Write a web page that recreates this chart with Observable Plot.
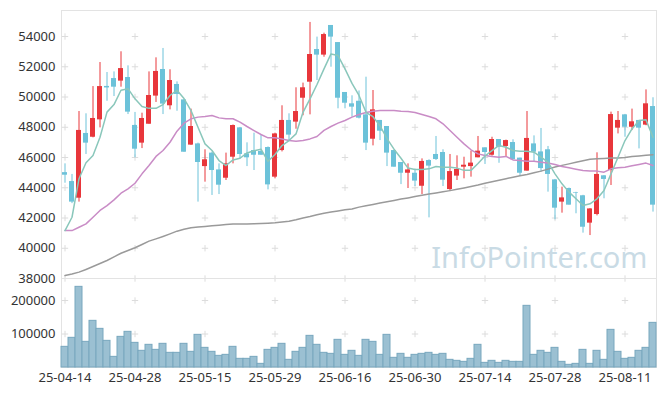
<!DOCTYPE html>
<html><head><meta charset="utf-8">
<script src="https://cdn.jsdelivr.net/npm/d3@7"></script>
<script src="https://cdn.jsdelivr.net/npm/@observablehq/plot@0.6"></script>
<style>
html,body{margin:0;padding:0;background:#fff;}
#chart{position:relative;width:665px;height:396px;overflow:hidden;font-family:"Noto Sans",sans-serif;}
#chart svg{position:absolute;left:0;}
</style></head><body><div id="chart"></div>
<script>
const dates = [
"2025-04-14","2025-04-15","2025-04-16","2025-04-17","2025-04-18","2025-04-21","2025-04-22","2025-04-23","2025-04-24","2025-04-25",
"2025-04-28","2025-04-29","2025-04-30","2025-05-02","2025-05-07","2025-05-08","2025-05-09","2025-05-12","2025-05-13","2025-05-14",
"2025-05-15","2025-05-16","2025-05-19","2025-05-20","2025-05-21","2025-05-22","2025-05-23","2025-05-26","2025-05-27","2025-05-28",
"2025-05-29","2025-05-30","2025-06-02","2025-06-04","2025-06-05","2025-06-09","2025-06-10","2025-06-11","2025-06-12","2025-06-13",
"2025-06-16","2025-06-17","2025-06-18","2025-06-19","2025-06-20","2025-06-23","2025-06-24","2025-06-25","2025-06-26","2025-06-27",
"2025-06-30","2025-07-01","2025-07-02","2025-07-03","2025-07-04","2025-07-07","2025-07-08","2025-07-09","2025-07-10","2025-07-11",
"2025-07-14","2025-07-15","2025-07-16","2025-07-17","2025-07-18","2025-07-21","2025-07-22","2025-07-23","2025-07-24","2025-07-25",
"2025-07-28","2025-07-29","2025-07-30","2025-07-31","2025-08-01","2025-08-04","2025-08-05","2025-08-06","2025-08-07","2025-08-08",
"2025-08-11","2025-08-12","2025-08-13","2025-08-14","2025-08-18"];

const open = [
45000,44410,43310,47590,47340,48490,50700,51220,51050,51290,
48120,46950,48200,50060,51820,49420,50830,49810,46820,46900,
45400,46290,45180,44630,46020,47960,46240,46460,46400,46660,
44700,46460,48450,48340,49920,50980,53140,52770,54730,53600,
50300,49550,49720,48820,47210,48450,48050,46460,45670,44960,
44960,44100,45800,46200,46330,43880,44770,45360,45400,45980,
46640,46150,47190,46730,46990,45960,45100,46900,46370,46510,
44520,43050,43950,43680,43470,41660,42230,44790,45140,47940,
48820,48000,48450,48140,49370];
const high = [
45580,44880,49040,48890,50690,52280,51620,51660,52990,52060,
48980,48930,51660,52590,53210,51800,51000,49850,49200,46950,
46510,46350,45580,46290,48150,47990,46970,47610,47500,46700,
47610,49420,48890,50610,50920,54930,53960,54220,54730,53600,
50300,50080,50400,51310,50430,48450,48050,46460,45670,45580,
45230,45910,45850,47390,46510,46200,46110,46020,46420,47390,
46640,47340,47190,47150,47170,45960,49040,47430,47920,46730,
44550,44040,43980,43700,43500,42620,46310,44800,49000,49040,
48850,49200,48450,50470,49950];
const low = [
44300,42950,43050,46200,47300,47960,49720,50030,50650,48840,
45980,46590,48200,49640,48840,49150,49060,46350,46800,43050,
44370,43490,43550,44480,45580,45910,45400,45140,46150,43860,
44590,46370,47080,47870,48760,48820,51090,52630,51970,49220,
49220,48670,48550,46460,46770,47120,45400,45360,44210,43950,
44080,43550,42010,45800,44080,43750,44480,44590,44700,45980,
45540,46090,45620,46070,45850,44740,45100,45690,45030,43710,
41880,42320,42850,42280,41000,40840,42140,43270,44150,47560,
47340,47780,46570,48100,42390];
const close = [
44830,43050,47790,46950,48580,50690,50600,50650,51880,49000,
46550,48580,50100,51690,49530,51090,50170,46350,48050,45670,
45850,45140,44170,45580,48115,46200,45980,46150,46150,44190,
47560,48450,47480,49040,50610,52810,52770,54130,53960,49920,
49590,49330,48600,46950,49150,47740,46290,45360,44960,45180,
44440,45740,45430,45870,44500,45070,45210,45490,45630,46420,
46330,47190,46680,47120,45850,44960,47260,46350,45270,44880,
42650,43330,42850,43640,41390,42600,44880,44550,48840,48450,
48000,48360,47940,49550,42850];
const volume = [
61700,88600,240800,76600,139300,115400,79600,31800,91500,106500,
73600,49800,67700,52700,70700,43800,43800,70700,46800,97500,
58700,46800,34800,37800,61700,25900,25900,31800,10900,52700,
58700,70700,22900,46800,58700,94500,67700,43800,40800,82600,
37800,49800,34800,82600,76600,37800,97500,28900,40800,28900,
37800,40800,43800,37800,40800,22900,19900,16900,25900,67700,
13900,19900,13900,19900,16900,16900,184100,37800,49800,43800,
58700,16900,8000,10900,52700,10900,49800,22900,112400,46800,
25900,28900,49800,58700,133300];
const ma5 = [
41170,42050,44600,45650,46130,47340,49000,49500,50450,50550,
49880,49370,49250,49250,49500,50100,50450,49900,49100,48000,
46900,46460,45800,45470,45840,45950,46300,46450,46550,45750,
46200,46790,47120,47560,48990,49880,50830,51860,52850,52740,
51860,50900,50100,48990,48700,48100,47250,46550,45950,45300,
45200,45200,45250,45400,45350,45350,45300,45150,45150,45600,
46100,46450,46800,46680,46460,46420,46420,46350,46020,45690,
44920,44260,43710,43270,42830,42940,43270,43820,44920,46020,
47120,47890,48450,48490,47340];
const ma20 = [
41170,41170,41390,41610,42050,42500,42820,43200,43640,43930,
44300,44920,45470,46070,46460,47010,47740,48270,48560,48670,
48710,48780,48620,48560,48560,48340,48050,47780,47520,47300,
47300,47230,47120,47080,47120,47230,47390,47790,48050,48270,
48450,48670,48840,48970,49060,49110,49110,49110,49060,49040,
48970,48840,48710,48560,48230,47790,47340,46900,46510,46240,
46130,46070,46020,46070,45840,45800,45760,45760,45690,45630,
45540,45410,45320,45230,45140,45100,45100,45030,45250,45320,
45360,45450,45540,45630,45470];
const ma60 = [
38200,38300,38420,38600,38790,38990,39190,39430,39670,39850,
40030,40250,40470,40620,40780,40950,41130,41250,41350,41400,
41440,41480,41520,41570,41610,41610,41610,41620,41640,41660,
41690,41740,41790,41880,42000,42100,42220,42320,42400,42470,
42540,42600,42720,42810,42900,42990,43080,43160,43250,43330,
43420,43500,43580,43660,43730,43810,43900,43990,44080,44180,
44300,44400,44500,44600,44700,44790,44880,44990,45100,45230,
45370,45480,45580,45680,45780,45880,45920,45940,45960,45970,
46000,46060,46100,46150,46180];
const priceTicks = [38000,40000,42000,44000,46000,48000,50000,52000,54000];
const volumeTicks = [100000,200000];
const tickLabels = ["25-04-14","25-04-28","25-05-15","25-05-29","25-06-16","25-06-30","25-07-14","25-07-28","25-08-11"];
const watermark = "InfoPointer.com";

const UP = "#e8363b", DOWN = "#6cc2d9";
const rows = dates.map((date, i) => ({
  date, open: open[i], high: high[i], low: low[i], close: close[i],
  volume: volume[i], ma5: ma5[i], ma20: ma20[i], ma60: ma60[i],
  color: close[i] >= open[i] ? UP : DOWN
}));
const tickDates = dates.filter(d => tickLabels.includes(d.slice(2)));
const priceGrid = d3.cross(tickDates, priceTicks).map(([date, v]) => ({date, v}));
const volGrid = d3.cross(tickDates, volumeTicks).map(([date, v]) => ({date, v}));

const baseStyle = {fontFamily: "'Noto Sans', sans-serif", fontSize: "13px", color: "#333", background: "transparent", overflow: "visible"};
const xBand = {type: "band", domain: dates, padding: 0};

const price = Plot.plot({
  width: 665, height: 279, marginLeft: 61, marginRight: 9, marginTop: 10, marginBottom: 1,
  style: baseStyle,
  x: {...xBand, axis: null},
  y: {domain: [38000, 55720], ticks: priceTicks, tickSize: 0, tickPadding: 6, tickFormat: d => String(d), label: null},
  marks: [
    Plot.frame({stroke: "#e3e3e3"}),
    Plot.dot(priceGrid, {x: "date", y: "v", symbol: "plus", r: 2.2, stroke: "#dcdcdc", strokeWidth: 1}),
    Plot.text([watermark], {text: d => d, frameAnchor: "bottom-right", textAnchor: "end", lineAnchor: "middle", dx: -9, dy: -20, fontSize: 29, fill: "#c9dbe5"}),
    Plot.ruleX(rows, {x: "date", y1: "low", y2: "high", stroke: "color", strokeWidth: 1}),
    Plot.barY(rows, {x: "date", y1: "open", y2: "close", fill: "color", insetLeft: 1, insetRight: 1}),
    Plot.lineY(rows, {x: "date", y: "ma60", stroke: "#9a9a9a", strokeWidth: 1.5}),
    Plot.lineY(rows, {x: "date", y: "ma20", stroke: "#c98cc6", strokeWidth: 1.5}),
    Plot.lineY(rows, {x: "date", y: "ma5", stroke: "#8ac7bb", strokeWidth: 1.5})
  ]
});

const vol = Plot.plot({
  width: 665, height: 118, marginLeft: 61, marginRight: 9, marginTop: 0, marginBottom: 29,
  style: baseStyle,
  x: {...xBand, ticks: tickDates, tickFormat: d => tickLabels[tickDates.indexOf(d)], tickSize: 0, tickPadding: 5, label: null},
  y: {domain: [0, 265700], ticks: volumeTicks, tickSize: 0, tickPadding: 6, tickFormat: d => String(d), label: null},
  marks: [
    Plot.frame({stroke: "#e3e3e3"}),
    Plot.dot(volGrid, {x: "date", y: "v", symbol: "plus", r: 2.2, stroke: "#dcdcdc", strokeWidth: 1}),
    Plot.barY(rows, {x: "date", y: "volume", fill: "#9bc0d2", stroke: "#78a7be", strokeWidth: 1})
  ]
});

price.style.top = "0px";
vol.style.top = "278px";
const chart = document.getElementById("chart");
chart.appendChild(price);
chart.appendChild(vol);
</script></body></html>
